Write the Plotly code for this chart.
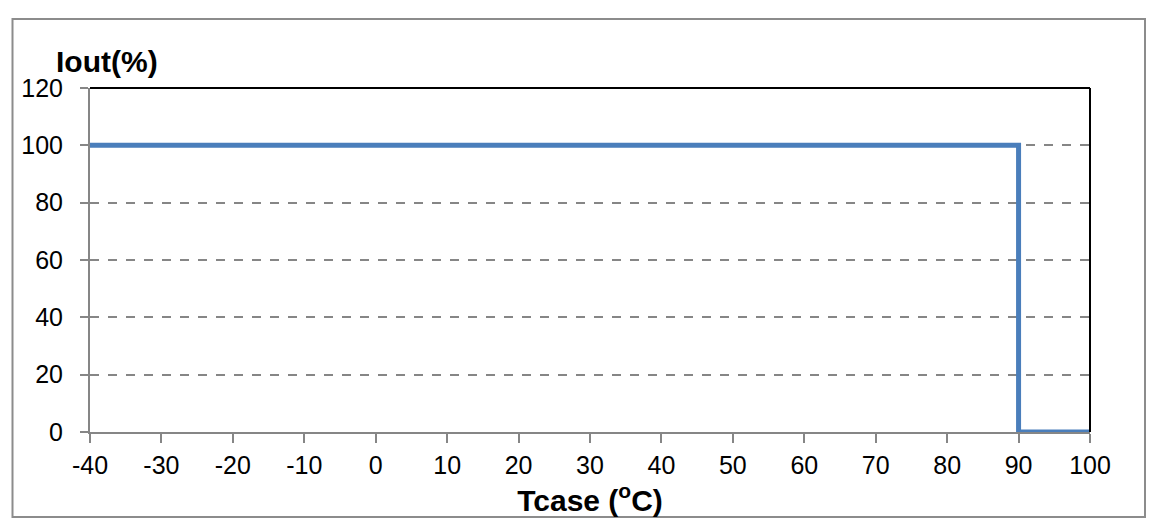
import plotly.graph_objects as go

# Data
temp_c = [-40, 90, 90, 100]
iout_pct = [100, 100, 0, 0]
x_ticks = list(range(-40, 101, 10))
y_ticks = list(range(0, 121, 20))

W, H = 1157, 530
OFF = 8  # default page body margin
# plot area in page pixels
PX0, PX1, PY0, PY1 = 90, 1090, 88, 432
pw, ph = PX1 - PX0, PY1 - PY0
FW, FH = W - 2 * OFF, H - 2 * OFF
L = PX0 - OFF
T = PY0 - OFF
R = FW - L - pw
B = FH - T - ph

def px2paper_x(px):
    return (px - PX0) / pw

def px2paper_y(py):
    return (PY1 - py) / ph

fig = go.Figure()
fig.add_trace(go.Scatter(
    x=temp_c, y=iout_pct, mode="lines",
    line=dict(color="#4A7EBB", width=5),
    showlegend=False, hoverinfo="skip",
))

font = "Liberation Sans, Arial, sans-serif"
axis_gray = "#868686"

fig.update_layout(
    width=FW, height=FH,
    margin=dict(l=L, r=R, t=T, b=B),
    paper_bgcolor="white", plot_bgcolor="white",
    font=dict(family=font, size=25, color="black"),
    xaxis=dict(
        range=[-40, 100], tickmode="array", tickvals=x_ticks,
        ticktext=[str(v) for v in x_ticks],
        showgrid=False, zeroline=False,
        showline=True, linecolor=axis_gray, linewidth=2,
        ticks="outside", ticklen=9, tickcolor=axis_gray, tickwidth=2,
        ticklabelstandoff=1,
        tickfont=dict(size=25, family=font),
        title=dict(text="<b>Tcase (<sup>o</sup>C)</b>", font=dict(size=30, family=font), standoff=3),
    ),
    yaxis=dict(
        range=[0, 120], tickmode="array", tickvals=y_ticks,
        ticktext=[str(v) for v in y_ticks],
        showgrid=True, gridcolor=axis_gray, griddash="dash", gridwidth=1.5,
        zeroline=False,
        showline=True, linecolor=axis_gray, linewidth=2,
        ticks="outside", ticklen=8, tickcolor=axis_gray, tickwidth=2,
        ticklabelstandoff=12,
        tickfont=dict(size=25, family=font),
    ),
    shapes=[
        # outer chart border
        dict(type="rect", xref="paper", yref="paper",
             x0=px2paper_x(12.5), x1=px2paper_x(1145), y0=px2paper_y(517), y1=px2paper_y(19),
             line=dict(color="#8C8C8C", width=2), fillcolor="rgba(0,0,0,0)", layer="below"),
        # top and right plot-area border
        dict(type="line", xref="paper", yref="paper", x0=0, x1=1, y0=1, y1=1,
             line=dict(color="black", width=2)),
        dict(type="line", xref="paper", yref="paper", x0=1, x1=1, y0=0, y1=1,
             line=dict(color="black", width=2)),
    ],
    annotations=[
        dict(text="<b>Iout(%)</b>", xref="paper", yref="paper",
             x=px2paper_x(54), y=px2paper_y(61), xanchor="left", yanchor="middle",
             showarrow=False, font=dict(size=30, family=font, color="black")),
    ],
)

fig.write_html("out.html")
